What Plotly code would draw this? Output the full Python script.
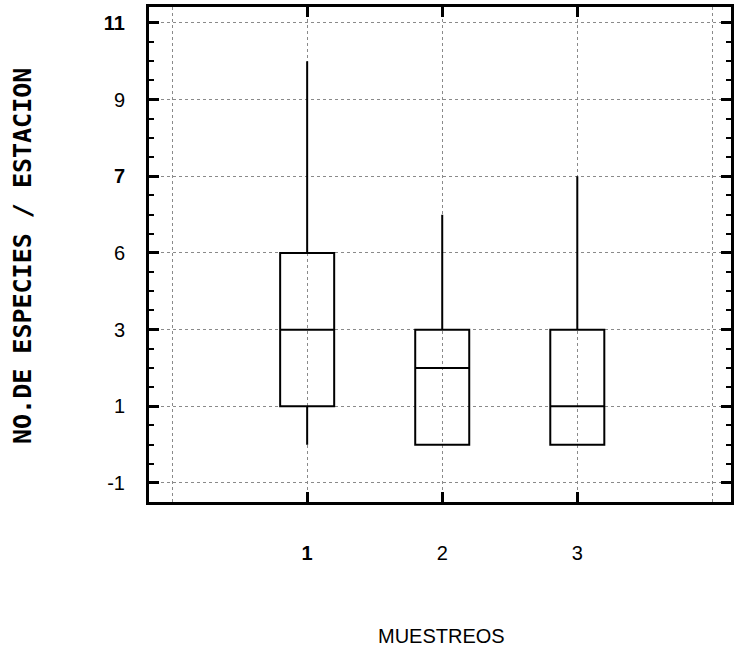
import plotly.graph_objects as go

# Data
muestreos = [1, 2, 3]
x_ticktext = ["<b>1</b>", "2", "3"]
q1 = [1, 0, 0]
median = [3, 2, 1]
q3 = [5, 3, 3]
lower_whisker = [0, 0, 0]
upper_whisker = [10, 6, 7]

y_tickvals = [-1, 1, 3, 5, 7, 9, 11]
y_ticktext = ["-1", "1", "3", "6", "<b>7</b>", "9", "<b>11</b>"]

fig = go.Figure()
fig.add_trace(go.Box(
    x=muestreos, q1=q1, median=median, q3=q3,
    lowerfence=lower_whisker, upperfence=upper_whisker,
    boxpoints=False, width=0.4, whiskerwidth=0,
    line=dict(color="black", width=2),
    fillcolor="rgba(0,0,0,0)", showlegend=False, hoverinfo="skip",
))

grid_style = dict(showgrid=True, gridcolor="#8a8a8a", gridwidth=1, griddash="dot")

fig.update_xaxes(
    range=[-0.171, 4.138], tickmode="array", tickvals=muestreos, ticktext=x_ticktext,
    ticks="inside", ticklen=10, tickwidth=3, tickcolor="black",
    showline=True, linecolor="black", linewidth=3, mirror="ticks",
    zeroline=False, ticklabelstandoff=31,
    tickfont=dict(family="Liberation Sans", size=20, color="black"),
    minor=dict(tickmode="array", tickvals=[0, 4], ticks="", **grid_style),
    **grid_style,
)
fig.update_yaxes(
    range=[-1.496, 11.417], tickmode="array", tickvals=y_tickvals, ticktext=y_ticktext,
    ticks="inside", ticklen=10, tickwidth=3, tickcolor="black",
    showline=True, linecolor="black", linewidth=3, mirror="ticks",
    zeroline=False, ticklabelstandoff=17,
    tickfont=dict(family="Liberation Sans", size=20, color="black"),
    minor=dict(dtick=0.5, tick0=-1, ticks="inside", ticklen=5, tickwidth=2,
               tickcolor="black", showgrid=False),
    **grid_style,
)

fig.add_annotation(
    text="<b>NO.DE ESPECIES / ESTACION</b>", textangle=-90,
    xref="paper", yref="paper", x=-0.2165, y=0.497,
    xanchor="center", yanchor="middle", showarrow=False,
    font=dict(family="DejaVu Sans Mono", size=25, color="black"),
)
fig.add_annotation(
    text="MUESTREOS", xref="paper", yref="paper", x=0.503, y=-0.27,
    xanchor="center", yanchor="middle", showarrow=False,
    font=dict(family="Liberation Sans", size=20, color="black"),
)

fig.update_layout(
    width=736, height=650,
    margin=dict(l=149, r=2, t=7, b=148),
    plot_bgcolor="white", paper_bgcolor="white",
)

fig.write_html(
    "out.html",
    config={"displayModeBar": False, "staticPlot": True},
    post_script="document.body.style.margin='0';document.body.style.overflow='hidden';",
)
